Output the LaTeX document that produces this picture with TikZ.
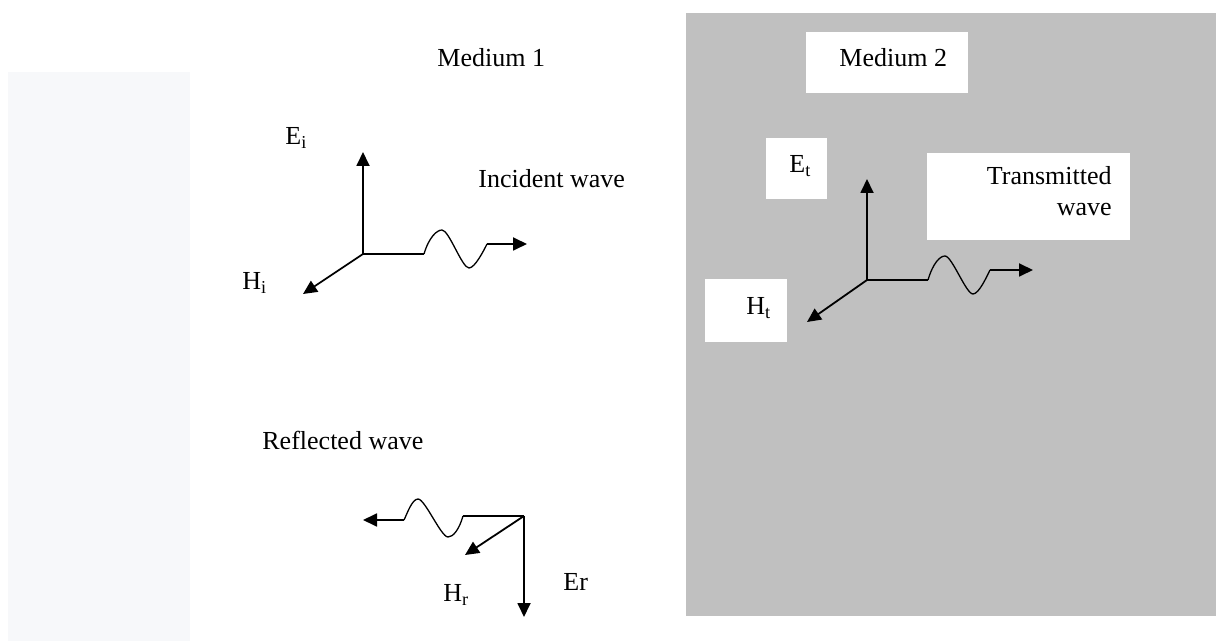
\documentclass[tikz,border=0pt]{standalone}
\usepackage{fontspec}
\setmainfont{Liberation Serif}
\usetikzlibrary{arrows.meta}
\definecolor{mediumgray}{RGB}{192,192,192}
\definecolor{palepanel}{RGB}{247,248,250}
\tikzset{
  vec/.style={line width=0.9pt,-{Triangle[length=7pt,width=6.5pt]}},
  axis/.style={line width=0.9pt},
  wavy/.style={line width=0.65pt},
  lbl/.style={inner sep=0pt,font=\fontsize{13}{15.5}\selectfont,anchor=base west},
  whitebox/.style={fill=white}
}
\begin{document}
\begin{tikzpicture}[x=0.5pt,y=-0.5pt]
  \useasboundingbox (0,0) rectangle (1216,641);
  % backgrounds
  \fill[palepanel] (8,72) rectangle (190,641);
  \fill[mediumgray] (686,13) rectangle (1216,616);
  \fill[whitebox] (806,32) rectangle (968,93);
  \fill[whitebox] (766,138) rectangle (827,199);
  \fill[whitebox] (927,153) rectangle (1130,240);
  \fill[whitebox] (705,279) rectangle (787,342);

  % labels
  \node[lbl] (med1) at (437,67) {Medium 1};
  \node[lbl] (med2) at (839,67) {Medium 2};
  \node[lbl] (Ei) at (285,145) {E\textsubscript{i}};
  \node[lbl] (Hi) at (242,290) {H\textsubscript{i}};
  \node[lbl] (inc) at (478,188) {Incident wave};
  \node[lbl] (Et) at (789,173) {E\textsubscript{t}};
  \node[lbl] (Ht) at (746,315) {H\textsubscript{t}};
  \node[lbl,anchor=base east,align=right] (trans) at (1112,216) {Transmitted\\wave};
  \node[lbl] (refl) at (262,450) {Reflected wave};
  \node[lbl] (Hr) at (443,602) {H\textsubscript{r}};
  \node[lbl] (Er) at (563,590) {Er};

  % incident wave
  \coordinate (io) at (363,254);
  \coordinate (iE) at (363,152);
  \coordinate (iH) at (303,294);
  \coordinate (iw) at (424,254);
  \coordinate (iv) at (487,244);
  \coordinate (ik) at (527,244);
  \draw[vec] (io) -- (iE);
  \draw[vec] (io) -- (iH);
  \draw[axis] (io) -- (iw);
  \draw[wavy] (iw) .. controls +(5,-17) and +(-5,0) .. ++(18,-24)
    .. controls +(7,0) and +(-7,0) .. ++(27,38)
    .. controls +(6,0) and +(-3,6) .. (iv);
  \draw[vec] (iv) -- (ik);

  % transmitted wave
  \coordinate (to) at (867,280);
  \coordinate (tE) at (867,179);
  \coordinate (tH) at (807,322);
  \coordinate (tw) at (928,280);
  \coordinate (tv) at (990,270);
  \coordinate (tk) at (1033,270);
  \draw[vec] (to) -- (tE);
  \draw[vec] (to) -- (tH);
  \draw[axis] (to) -- (tw);
  \draw[wavy] (tw) .. controls +(5,-17) and +(-5,0) .. ++(17,-24)
    .. controls +(7,0) and +(-7,0) .. ++(28,38)
    .. controls +(6,0) and +(-3,6) .. (tv);
  \draw[vec] (tv) -- (tk);

  % reflected wave
  \coordinate (ro) at (524,516);
  \coordinate (rE) at (524,617);
  \coordinate (rH) at (465,555);
  \coordinate (rw) at (463,516);
  \coordinate (rv) at (404,520);
  \coordinate (rk) at (363,520);
  \draw[vec] (ro) -- (rE);
  \draw[vec] (ro) -- (rH);
  \draw[axis] (ro) -- (rw);
  \draw[wavy] (rw) .. controls +(-4,14) and +(5,0) .. ++(-15,21)
    .. controls +(-7,0) and +(7,0) .. ++(-30,-38)
    .. controls +(-6,0) and +(3,-6) .. (rv);
  \draw[vec] (rv) -- (rk);
\end{tikzpicture}
\end{document}
